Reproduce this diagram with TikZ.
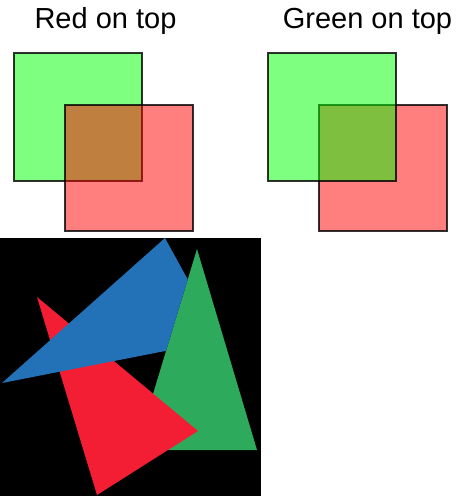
\documentclass[tikz,border=0pt]{standalone}
\usepackage{fontspec}
\setmainfont{Liberation Sans}
\usetikzlibrary{positioning}

\definecolor{triblue}{RGB}{35,114,184}
\definecolor{trired}{RGB}{244,30,52}
\definecolor{trigreen}{RGB}{46,170,92}

\begin{document}
\begin{tikzpicture}[x=1pt, y=-1pt,
    title/.style={font=\fontsize{29}{32}\selectfont, anchor=base, inner sep=0pt},
    sq/.style={draw=black, draw opacity=0.8, line width=1.6pt, fill opacity=0.5},
    greensq/.style={sq, fill={rgb,255:red,0;green,255;blue,0}},
    redsq/.style={sq, fill={rgb,255:red,255;green,0;blue,0}}
]
\useasboundingbox (0,0) rectangle (459,496);

% titles
\node[title] (tleft) at (105.5,28) {Red on top};
\node[title] (tright) at (367.5,28) {Green on top};

% left: green first, red above
\draw[greensq] (14,53) rectangle (142,181);
\draw[redsq] (65,105) rectangle (193,231);

% right: red first, green above
\draw[redsq] (319,105) rectangle (447,231);
\draw[greensq] (268,53) rectangle (396,181);

% triangles on black: green under red, red under blue, blue under green
\fill[black] (0,238) rectangle (261,496);
\fill[trigreen] (197,249) -- (257,450) -- (136,450) -- cycle;
\fill[trired] (37,297) -- (198,431) -- (97,495) -- cycle;
% blue, less the part that green hides
\fill[triblue] (165,238) -- (187.76,279.45) -- (166.1,350.8) -- (2,383) -- cycle;
\end{tikzpicture}
\end{document}
